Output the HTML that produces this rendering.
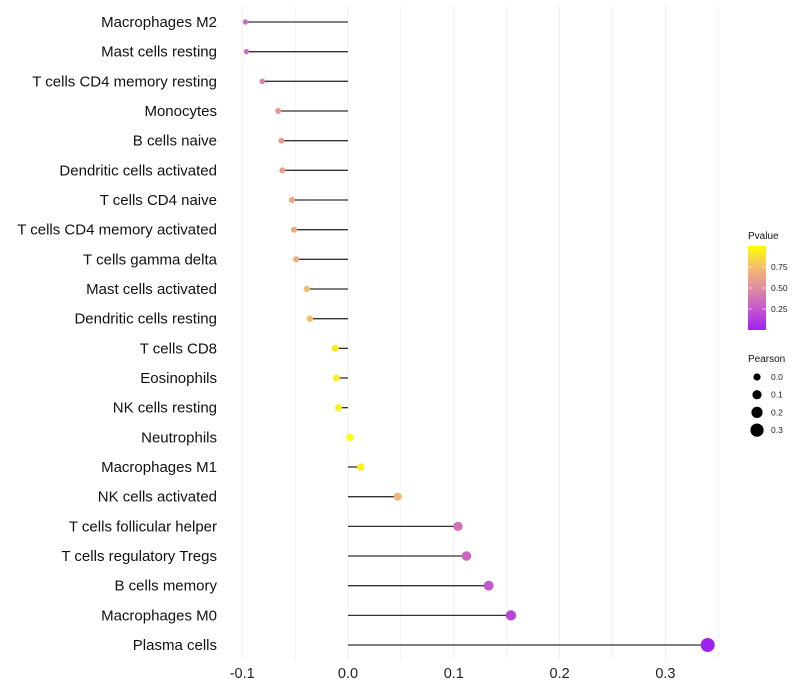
<!DOCTYPE html>
<html><head><meta charset="utf-8"><style>
body{margin:0;background:#fff;font-family:"Liberation Sans",sans-serif}
svg{display:block}
</style></head><body>
<svg id="c" width="800" height="700">
<defs><linearGradient id="pg" x1="0" y1="1" x2="0" y2="0">
<stop offset="0" stop-color="#a020f0"/><stop offset="0.25" stop-color="#c457cf"/><stop offset="0.5" stop-color="#e08ea0"/><stop offset="0.75" stop-color="#f3bd6e"/><stop offset="1" stop-color="#ffff00"/></linearGradient></defs>
</svg>
<script>
const categories=["Macrophages M2","Mast cells resting","T cells CD4 memory resting","Monocytes","B cells naive","Dendritic cells activated","T cells CD4 naive","T cells CD4 memory activated","T cells gamma delta","Mast cells activated","Dendritic cells resting","T cells CD8","Eosinophils","NK cells resting","Neutrophils","Macrophages M1","NK cells activated","T cells follicular helper","T cells regulatory  Tregs ","B cells memory","Macrophages M0","Plasma cells"];
const pearson=[-0.097,-0.096,-0.081,-0.066,-0.063,-0.062,-0.053,-0.051,-0.049,-0.039,-0.036,-0.012,-0.011,-0.009,0.002,0.012,0.047,0.104,0.112,0.133,0.154,0.340];
const pvalues=[0.33,0.34,0.45,0.55,0.57,0.58,0.65,0.66,0.67,0.74,0.76,0.92,0.93,0.95,0.99,0.93,0.70,0.36,0.32,0.24,0.17,0.001];
const xTicks=[-0.1,0,0.1,0.2,0.3];
const xTickLabels=["-0.1","0.0","0.1","0.2","0.3"];
const sizeLegend=[0.0,0.1,0.2,0.3];
const pLegend=[0.25,0.5,0.75];
const NS="http://www.w3.org/2000/svg";
const svg=document.getElementById('c');
const x=v=>348+v*1058;
const y=i=>22+i*29.667;
const r=v=>Math.max(1.7,3.6+10*v);
const stops=[[0,[160,32,240]],[0.25,[196,87,207]],[0.5,[224,142,160]],[0.75,[243,189,110]],[1,[255,255,0]]];
function col(p){for(let k=1;k<stops.length;k++){if(p<=stops[k][0]){const a=stops[k-1],b=stops[k],t=(p-a[0])/(b[0]-a[0]);return 'rgb('+a[1].map((c,j)=>Math.round(c+(b[1][j]-c)*t)).join(',')+')';}}return 'rgb(255,255,0)';}
function el(t,at,txt){const e=document.createElementNS(NS,t);for(const k in at)e.setAttribute(k,at[k]);if(txt!=null)e.textContent=txt;svg.appendChild(e);return e;}
for(let v=-0.1;v<=0.351;v+=0.05){
 const g=el('line',{x1:x(v),x2:x(v),y1:5,y2:660,stroke:'#efefef','stroke-width':Math.abs(Math.round(v*20)%2)?0.6:1});
 
 
}
xTicks.forEach((v,i)=>{
 const t=el('text',{x:x(v),y:678,'font-size':14.5,'text-anchor':'middle',fill:'#222'},xTickLabels[i]);
 
 
});
categories.forEach((c,i)=>{
 const t=el('text',{x:217,y:y(i)+5,'font-size':15,'text-anchor':'end',fill:'#111'},c);
 
 
 const l=el('line',{x1:x(0),x2:x(pearson[i]),y1:y(i),y2:y(i),stroke:'#333','stroke-width':1.3});
 
 
 const d=el('circle',{cx:x(pearson[i]),cy:y(i),r:r(pearson[i]),fill:col(pvalues[i])});
 
 
});
let t=el('text',{x:748,y:239,'font-size':10,fill:'#111'},'Pvalue');


const bar=el('rect',{x:748,y:246,width:18,height:84,fill:'url(#pg)'});


pLegend.forEach(p=>{
 const yy=330-p*84;
 el('line',{x1:748,x2:752,y1:yy,y2:yy,stroke:'#fff','stroke-opacity':0.6});
 el('line',{x1:762,x2:766,y1:yy,y2:yy,stroke:'#fff','stroke-opacity':0.6});
 const tt=el('text',{x:771,y:yy+3,'font-size':8.5,fill:'#222'},p.toFixed(2));
 
 
});
t=el('text',{x:748,y:362,'font-size':10,fill:'#111'},'Pearson');


sizeLegend.forEach((v,i)=>{
 const yy=377+i*17.7;
 const c=el('circle',{cx:757,cy:yy,r:r(v),fill:'#000'});
 
 
 const tt=el('text',{x:771,y:yy+3,'font-size':8.5,fill:'#222'},v.toFixed(1));
 
 
});
</script>
</body></html>
